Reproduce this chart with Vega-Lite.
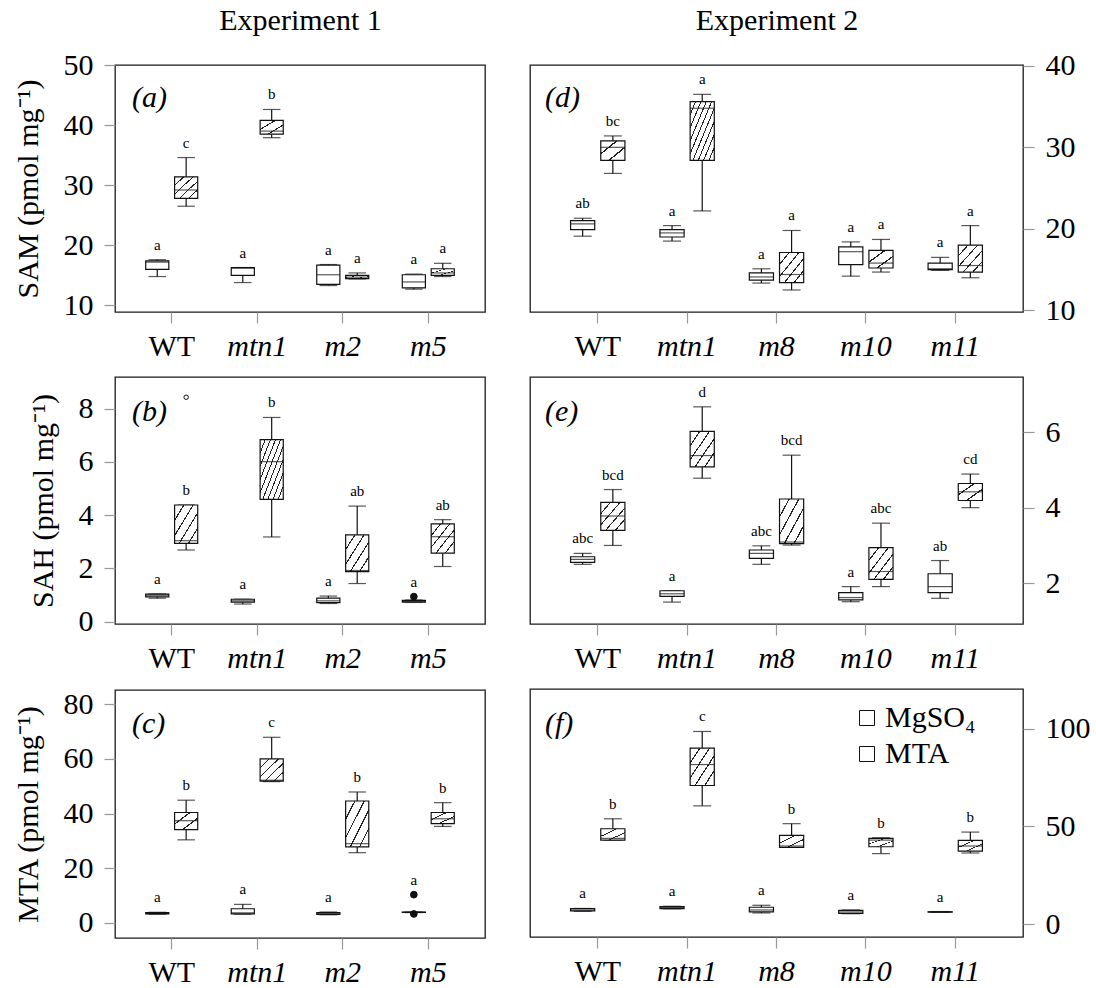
{
  "$schema": "https://vega.github.io/schema/vega-lite/v6.json",
  "background": "white",
  "padding": {"left": 12, "top": 4, "right": 0, "bottom": 0},
  "config": {
    "font": "Liberation Serif",
    "view": {"stroke": "#1a1a1a", "strokeWidth": 1.3},
    "axis": {"domain": false, "grid": false, "tickColor": "#999", "tickSize": 11, "tickWidth": 1.2, "labelFontSize": 30, "labelColor": "#000", "titleFontSize": 30, "titleFontWeight": "normal", "titleColor": "#000", "labelFont": "Liberation Serif", "titleFont": "Liberation Serif", "labelPadding": 11, "titlePadding": 20},
    "title": {"font": "Liberation Serif", "fontSize": 30, "fontWeight": "normal", "color": "#000"}
  },
  "datasets": {
    "boxes": [
      {"panel": "a", "geno": "WT", "trt": "MgSO₄", "min": 14.8, "q1": 16.0, "med": 17.2, "q3": 17.4, "max": 17.6, "top": 17.6, "lab": "a"},
      {"panel": "a", "geno": "WT", "trt": "MTA", "min": 26.5, "q1": 27.8, "med": 29.2, "q3": 31.4, "max": 34.6, "top": 34.6, "lab": "c"},
      {"panel": "a", "geno": "mtn1", "trt": "MgSO₄", "min": 13.8, "q1": 15.0, "med": 16.2, "q3": 16.3, "max": 16.3, "top": 16.3, "lab": "a"},
      {"panel": "a", "geno": "mtn1", "trt": "MTA", "min": 37.9, "q1": 38.5, "med": 39.0, "q3": 40.8, "max": 42.6, "top": 42.6, "lab": "b"},
      {"panel": "a", "geno": "m2", "trt": "MgSO₄", "min": 13.3, "q1": 13.5, "med": 15.1, "q3": 16.7, "max": 16.8, "top": 16.8, "lab": "a"},
      {"panel": "a", "geno": "m2", "trt": "MTA", "min": 14.4, "q1": 14.45, "med": 14.7, "q3": 15.0, "max": 15.4, "top": 15.4, "lab": "a"},
      {"panel": "a", "geno": "m5", "trt": "MgSO₄", "min": 12.7, "q1": 12.9, "med": 13.9, "q3": 15.1, "max": 15.2, "top": 15.2, "lab": "a"},
      {"panel": "a", "geno": "m5", "trt": "MTA", "min": 14.8, "q1": 15.0, "med": 15.4, "q3": 16.1, "max": 17.0, "top": 17.0, "lab": "a"},

      {"panel": "b", "geno": "WT", "trt": "MgSO₄", "min": 0.88, "q1": 0.93, "med": 0.99, "q3": 1.03, "max": 1.04, "top": 1.04, "lab": "a"},
      {"panel": "b", "geno": "WT", "trt": "MTA", "min": 2.69, "q1": 2.94, "med": 3.04, "q3": 4.38, "max": 4.38, "top": 4.38, "lab": "b"},
      {"panel": "b", "geno": "mtn1", "trt": "MgSO₄", "min": 0.66, "q1": 0.73, "med": 0.78, "q3": 0.84, "max": 0.84, "top": 0.84, "lab": "a"},
      {"panel": "b", "geno": "mtn1", "trt": "MTA", "min": 3.18, "q1": 4.59, "med": 6.01, "q3": 6.84, "max": 7.67, "top": 7.67, "lab": "b"},
      {"panel": "b", "geno": "m2", "trt": "MgSO₄", "min": 0.68, "q1": 0.71, "med": 0.78, "q3": 0.88, "max": 0.96, "top": 0.96, "lab": "a"},
      {"panel": "b", "geno": "m2", "trt": "MTA", "min": 1.43, "q1": 1.88, "med": 1.92, "q3": 3.26, "max": 4.34, "top": 4.34, "lab": "ab"},
      {"panel": "b", "geno": "m5", "trt": "MgSO₄", "min": 0.72, "q1": 0.73, "med": 0.76, "q3": 0.8, "max": 0.81, "top": 0.94, "lab": "a"},
      {"panel": "b", "geno": "m5", "trt": "MTA", "min": 2.07, "q1": 2.57, "med": 3.19, "q3": 3.67, "max": 3.83, "top": 3.83, "lab": "ab"},

      {"panel": "c", "geno": "WT", "trt": "MgSO₄", "min": 3.2, "q1": 3.3, "med": 3.5, "q3": 3.8, "max": 3.9, "top": 3.9, "lab": "a"},
      {"panel": "c", "geno": "WT", "trt": "MTA", "min": 30.4, "q1": 34.1, "med": 37.4, "q3": 40.4, "max": 44.9, "top": 44.9, "lab": "b"},
      {"panel": "c", "geno": "mtn1", "trt": "MgSO₄", "min": 3.2, "q1": 3.3, "med": 3.7, "q3": 5.2, "max": 6.8, "top": 6.8, "lab": "a"},
      {"panel": "c", "geno": "mtn1", "trt": "MTA", "min": 51.7, "q1": 51.9, "med": 52.2, "q3": 60.0, "max": 67.9, "top": 67.9, "lab": "c"},
      {"panel": "c", "geno": "m2", "trt": "MgSO₄", "min": 3.0, "q1": 3.1, "med": 3.5, "q3": 3.8, "max": 4.0, "top": 4.0, "lab": "a"},
      {"panel": "c", "geno": "m2", "trt": "MTA", "min": 25.7, "q1": 27.8, "med": 29.0, "q3": 44.6, "max": 47.9, "top": 47.9, "lab": "b"},
      {"panel": "c", "geno": "m5", "trt": "MgSO₄", "min": 3.8, "q1": 3.85, "med": 3.9, "q3": 3.95, "max": 4.0, "top": 10.35, "lab": "a"},
      {"panel": "c", "geno": "m5", "trt": "MTA", "min": 35.3, "q1": 36.3, "med": 38.1, "q3": 40.4, "max": 44.0, "top": 44.0, "lab": "b"},

      {"panel": "d", "geno": "WT", "trt": "MgSO₄", "min": 19.1, "q1": 19.9, "med": 20.6, "q3": 21.0, "max": 21.3, "top": 21.3, "lab": "ab"},
      {"panel": "d", "geno": "WT", "trt": "MTA", "min": 26.8, "q1": 28.4, "med": 30.0, "q3": 30.8, "max": 31.4, "top": 31.4, "lab": "bc"},
      {"panel": "d", "geno": "mtn1", "trt": "MgSO₄", "min": 18.5, "q1": 19.0, "med": 19.5, "q3": 19.9, "max": 20.4, "top": 20.4, "lab": "a"},
      {"panel": "d", "geno": "mtn1", "trt": "MTA", "min": 22.2, "q1": 28.4, "med": 34.8, "q3": 35.6, "max": 36.5, "top": 36.5, "lab": "a"},
      {"panel": "d", "geno": "m8", "trt": "MgSO₄", "min": 13.35, "q1": 13.7, "med": 14.1, "q3": 14.6, "max": 15.1, "top": 15.1, "lab": "a"},
      {"panel": "d", "geno": "m8", "trt": "MTA", "min": 12.5, "q1": 13.4, "med": 14.4, "q3": 17.1, "max": 19.8, "top": 19.8, "lab": "a"},
      {"panel": "d", "geno": "m10", "trt": "MgSO₄", "min": 14.2, "q1": 15.6, "med": 17.2, "q3": 17.8, "max": 18.4, "top": 18.4, "lab": "a"},
      {"panel": "d", "geno": "m10", "trt": "MTA", "min": 14.7, "q1": 15.2, "med": 15.8, "q3": 17.35, "max": 18.7, "top": 18.7, "lab": "a"},
      {"panel": "d", "geno": "m11", "trt": "MgSO₄", "min": 14.9, "q1": 15.0, "med": 15.1, "q3": 15.8, "max": 16.5, "top": 16.5, "lab": "a"},
      {"panel": "d", "geno": "m11", "trt": "MTA", "min": 14.0, "q1": 14.7, "med": 15.5, "q3": 18.0, "max": 20.4, "top": 20.4, "lab": "a"},

      {"panel": "e", "geno": "WT", "trt": "MgSO₄", "min": 2.5, "q1": 2.55, "med": 2.63, "q3": 2.7, "max": 2.79, "top": 2.79, "lab": "abc"},
      {"panel": "e", "geno": "WT", "trt": "MTA", "min": 3.0, "q1": 3.4, "med": 3.78, "q3": 4.14, "max": 4.48, "top": 4.48, "lab": "bcd"},
      {"panel": "e", "geno": "mtn1", "trt": "MgSO₄", "min": 1.5, "q1": 1.65, "med": 1.72, "q3": 1.8, "max": 1.8, "top": 1.8, "lab": "a"},
      {"panel": "e", "geno": "mtn1", "trt": "MTA", "min": 4.78, "q1": 5.08, "med": 5.38, "q3": 6.02, "max": 6.67, "top": 6.67, "lab": "d"},
      {"panel": "e", "geno": "m8", "trt": "MgSO₄", "min": 2.5, "q1": 2.66, "med": 2.79, "q3": 2.88, "max": 2.99, "top": 2.99, "lab": "abc"},
      {"panel": "e", "geno": "m8", "trt": "MTA", "min": 3.01, "q1": 3.05, "med": 3.09, "q3": 4.23, "max": 5.39, "top": 5.39, "lab": "bcd"},
      {"panel": "e", "geno": "m10", "trt": "MgSO₄", "min": 1.51, "q1": 1.56, "med": 1.62, "q3": 1.75, "max": 1.91, "top": 1.91, "lab": "a"},
      {"panel": "e", "geno": "m10", "trt": "MTA", "min": 1.91, "q1": 2.1, "med": 2.31, "q3": 2.94, "max": 3.59, "top": 3.59, "lab": "abc"},
      {"panel": "e", "geno": "m11", "trt": "MgSO₄", "min": 1.6, "q1": 1.75, "med": 1.91, "q3": 2.25, "max": 2.6, "top": 2.6, "lab": "ab"},
      {"panel": "e", "geno": "m11", "trt": "MTA", "min": 4.0, "q1": 4.19, "med": 4.42, "q3": 4.64, "max": 4.89, "top": 4.89, "lab": "cd"},

      {"panel": "f", "geno": "WT", "trt": "MgSO₄", "min": 6.6, "q1": 6.8, "med": 7.3, "q3": 8.0, "max": 8.1, "top": 8.1, "lab": "a"},
      {"panel": "f", "geno": "WT", "trt": "MTA", "min": 43.0, "q1": 43.0, "med": 43.9, "q3": 48.8, "max": 53.9, "top": 53.9, "lab": "b"},
      {"panel": "f", "geno": "mtn1", "trt": "MgSO₄", "min": 7.9, "q1": 8.0, "med": 8.5, "q3": 9.0, "max": 9.2, "top": 9.2, "lab": "a"},
      {"panel": "f", "geno": "mtn1", "trt": "MTA", "min": 60.5, "q1": 70.9, "med": 81.6, "q3": 90.0, "max": 98.5, "top": 98.5, "lab": "c"},
      {"panel": "f", "geno": "m8", "trt": "MgSO₄", "min": 5.8, "q1": 6.3, "med": 7.3, "q3": 8.7, "max": 9.7, "top": 9.7, "lab": "a"},
      {"panel": "f", "geno": "m8", "trt": "MTA", "min": 39.3, "q1": 39.3, "med": 40.0, "q3": 45.4, "max": 51.4, "top": 51.4, "lab": "b"},
      {"panel": "f", "geno": "m10", "trt": "MgSO₄", "min": 5.4, "q1": 5.6, "med": 6.3, "q3": 7.1, "max": 7.3, "top": 7.3, "lab": "a"},
      {"panel": "f", "geno": "m10", "trt": "MTA", "min": 36.1, "q1": 39.6, "med": 43.0, "q3": 43.9, "max": 44.2, "top": 44.2, "lab": "b"},
      {"panel": "f", "geno": "m11", "trt": "MgSO₄", "min": 6.1, "q1": 6.2, "med": 6.3, "q3": 6.4, "max": 6.5, "top": 6.5, "lab": "a"},
      {"panel": "f", "geno": "m11", "trt": "MTA", "min": 36.4, "q1": 37.4, "med": 40.0, "q3": 42.9, "max": 47.1, "top": 47.1, "lab": "b"}
    ],
    "outliers": [
      {"panel": "b", "geno": "WT", "trt": "MTA", "v": 8.43, "kind": "far"},
      {"panel": "b", "geno": "m5", "trt": "MgSO₄", "v": 0.94, "kind": "near"},
      {"panel": "c", "geno": "m5", "trt": "MgSO₄", "v": 10.35, "kind": "near"},
      {"panel": "c", "geno": "m5", "trt": "MgSO₄", "v": 3.3, "kind": "near"}
    ]
  },
  "resolve": {"scale": {"xOffset": "independent", "stroke": "independent"}, "legend": {"stroke": "independent"}},
  "spacing": 43,
  "hconcat": [
    {
      "spacing": 14,
      "resolve": {"scale": {"xOffset": "independent", "stroke": "independent"}, "legend": {"stroke": "independent"}},
      "vconcat": [
        {
          "width": 370, "height": 247,
          "title": {"text": "(a)", "anchor": "start", "frame": "group", "offset": -108, "dx": 17, "fontStyle": "italic", "baseline": "top"},
          "data": {"name": "boxes"},
          "transform": [{"filter": "datum.panel === 'a'"}],
          "resolve": {"axis": {"x": "independent", "y": "independent"}},
          "layer": [
            {"mark": {"type": "rule", "color": "#111", "strokeWidth": 1.2},
             "encoding": {
               "x": {"field": "geno", "type": "nominal", "scale": {"type": "band", "domain": ["WT", "mtn1", "m2", "m5"], "paddingInner": 0, "paddingOuter": 0.163}, "axis": {"orient": "top", "title": "Experiment 1", "labels": false, "ticks": false, "domain": false, "titlePadding": 30}},
               "xOffset": {"field": "trt", "type": "nominal", "scale": {"type": "band", "domain": ["MgSO₄", "MTA"], "paddingInner": 0.2, "paddingOuter": 0.58}},
               "y": {"field": "min", "type": "quantitative", "scale": {"domain": [8.9, 50], "nice": false, "zero": false}, "axis": null},
               "y2": {"field": "max"}}},
            {"mark": {"type": "tick", "size": 17.5, "thickness": 1.2, "color": "#111"},
             "encoding": {
               "x": {"field": "geno", "type": "nominal", "scale": {"type": "band", "domain": ["WT", "mtn1", "m2", "m5"], "paddingInner": 0, "paddingOuter": 0.163}, "axis": null},
               "xOffset": {"field": "trt", "type": "nominal", "scale": {"type": "band", "domain": ["MgSO₄", "MTA"], "paddingInner": 0.2, "paddingOuter": 0.58}},
               "y": {"field": "min", "type": "quantitative", "scale": {"domain": [8.9, 50], "nice": false, "zero": false}, "axis": null}}},
            {"mark": {"type": "tick", "size": 17.5, "thickness": 1.2, "color": "#111"},
             "encoding": {
               "x": {"field": "geno", "type": "nominal", "scale": {"type": "band", "domain": ["WT", "mtn1", "m2", "m5"], "paddingInner": 0, "paddingOuter": 0.163}, "axis": null},
               "xOffset": {"field": "trt", "type": "nominal", "scale": {"type": "band", "domain": ["MgSO₄", "MTA"], "paddingInner": 0.2, "paddingOuter": 0.58}},
               "y": {"field": "max", "type": "quantitative", "scale": {"domain": [8.9, 50], "nice": false, "zero": false}, "axis": null}}},
            {"mark": {"type": "bar", "stroke": "#111", "strokeWidth": 1.2},
             "encoding": {
               "x": {"field": "geno", "type": "nominal", "scale": {"type": "band", "domain": ["WT", "mtn1", "m2", "m5"], "paddingInner": 0, "paddingOuter": 0.163}, "axis": {"orient": "bottom", "title": null, "labelPadding": 8, "labelAngle": 0, "labelFontStyle": {"condition": {"test": "datum.value === 'WT'", "value": "normal"}, "value": "italic"}}},
               "xOffset": {"field": "trt", "type": "nominal", "scale": {"type": "band", "domain": ["MgSO₄", "MTA"], "paddingInner": 0.2, "paddingOuter": 0.58}},
               "y": {"field": "q1", "type": "quantitative", "scale": {"domain": [8.9, 50], "nice": false, "zero": false}, "axis": {"orient": "left", "values": [10, 20, 30, 40, 50], "title": "SAM (pmol mg⁻¹)"}},
               "y2": {"field": "q3"},
               "fill": {"condition": [
                 {"test": "datum.trt === 'MTA' && datum.q3 - datum.q1 > 8.3", "value": {"gradient": "linear", "x1": 0, "y1": 0, "x2": 1, "y2": 1, "stops": [{"offset": 0, "color": "#222"}, {"offset": 0.011, "color": "#222"}, {"offset": 0.011, "color": "white"}, {"offset": 0.1, "color": "white"}, {"offset": 0.1, "color": "#222"}, {"offset": 0.122, "color": "#222"}, {"offset": 0.122, "color": "white"}, {"offset": 0.211, "color": "white"}, {"offset": 0.211, "color": "#222"}, {"offset": 0.233, "color": "#222"}, {"offset": 0.233, "color": "white"}, {"offset": 0.322, "color": "white"}, {"offset": 0.322, "color": "#222"}, {"offset": 0.344, "color": "#222"}, {"offset": 0.344, "color": "white"}, {"offset": 0.433, "color": "white"}, {"offset": 0.433, "color": "#222"}, {"offset": 0.455, "color": "#222"}, {"offset": 0.455, "color": "white"}, {"offset": 0.545, "color": "white"}, {"offset": 0.545, "color": "#222"}, {"offset": 0.567, "color": "#222"}, {"offset": 0.567, "color": "white"}, {"offset": 0.656, "color": "white"}, {"offset": 0.656, "color": "#222"}, {"offset": 0.678, "color": "#222"}, {"offset": 0.678, "color": "white"}, {"offset": 0.767, "color": "white"}, {"offset": 0.767, "color": "#222"}, {"offset": 0.789, "color": "#222"}, {"offset": 0.789, "color": "white"}, {"offset": 0.878, "color": "white"}, {"offset": 0.878, "color": "#222"}, {"offset": 0.9, "color": "#222"}, {"offset": 0.9, "color": "white"}, {"offset": 0.989, "color": "white"}, {"offset": 0.989, "color": "#222"}, {"offset": 1, "color": "#222"}]}},
                 {"test": "datum.trt === 'MTA' && datum.q3 - datum.q1 > 3.3", "value": {"gradient": "linear", "x1": 0, "y1": 0, "x2": 1, "y2": 1, "stops": [{"offset": 0, "color": "#222"}, {"offset": 0.014, "color": "#222"}, {"offset": 0.014, "color": "white"}, {"offset": 0.186, "color": "white"}, {"offset": 0.186, "color": "#222"}, {"offset": 0.214, "color": "#222"}, {"offset": 0.214, "color": "white"}, {"offset": 0.386, "color": "white"}, {"offset": 0.386, "color": "#222"}, {"offset": 0.414, "color": "#222"}, {"offset": 0.414, "color": "white"}, {"offset": 0.586, "color": "white"}, {"offset": 0.586, "color": "#222"}, {"offset": 0.614, "color": "#222"}, {"offset": 0.614, "color": "white"}, {"offset": 0.786, "color": "white"}, {"offset": 0.786, "color": "#222"}, {"offset": 0.814, "color": "#222"}, {"offset": 0.814, "color": "white"}, {"offset": 0.986, "color": "white"}, {"offset": 0.986, "color": "#222"}, {"offset": 1, "color": "#222"}]}},
                 {"test": "datum.trt === 'MTA'", "value": {"gradient": "linear", "x1": 0, "y1": 0, "x2": 1, "y2": 1, "stops": [{"offset": 0, "color": "#222"}, {"offset": 0.022, "color": "#222"}, {"offset": 0.022, "color": "white"}, {"offset": 0.311, "color": "white"}, {"offset": 0.311, "color": "#222"}, {"offset": 0.355, "color": "#222"}, {"offset": 0.355, "color": "white"}, {"offset": 0.645, "color": "white"}, {"offset": 0.645, "color": "#222"}, {"offset": 0.689, "color": "#222"}, {"offset": 0.689, "color": "white"}, {"offset": 0.978, "color": "white"}, {"offset": 0.978, "color": "#222"}, {"offset": 1, "color": "#222"}]}}
               ], "value": "white"}}},
            {"mark": {"type": "tick", "size": 23, "thickness": 1.2, "color": "#111"},
             "encoding": {
               "x": {"field": "geno", "type": "nominal", "scale": {"type": "band", "domain": ["WT", "mtn1", "m2", "m5"], "paddingInner": 0, "paddingOuter": 0.163}, "axis": null},
               "xOffset": {"field": "trt", "type": "nominal", "scale": {"type": "band", "domain": ["MgSO₄", "MTA"], "paddingInner": 0.2, "paddingOuter": 0.58}},
               "y": {"field": "med", "type": "quantitative", "scale": {"domain": [8.9, 50], "nice": false, "zero": false}, "axis": null}}},
            {"mark": {"type": "text", "dy": -15, "fontSize": 15, "baseline": "middle", "color": "#000"},
             "encoding": {
               "x": {"field": "geno", "type": "nominal", "scale": {"type": "band", "domain": ["WT", "mtn1", "m2", "m5"], "paddingInner": 0, "paddingOuter": 0.163}, "axis": null},
               "xOffset": {"field": "trt", "type": "nominal", "scale": {"type": "band", "domain": ["MgSO₄", "MTA"], "paddingInner": 0.2, "paddingOuter": 0.58}},
               "y": {"field": "top", "type": "quantitative", "scale": {"domain": [8.9, 50], "nice": false, "zero": false}, "axis": null},
               "text": {"field": "lab"}}}
          ]
        },
        {
          "width": 370, "height": 247,
          "title": {"text": "(b)", "anchor": "start", "frame": "group", "offset": -50, "dx": 17, "fontStyle": "italic", "baseline": "top"},
          "data": {"name": "boxes"},
          "transform": [{"filter": "datum.panel === 'b'"}],
          "resolve": {"axis": {"x": "independent", "y": "independent"}},
          "layer": [
            {"mark": {"type": "rule", "color": "#111", "strokeWidth": 1.2},
             "encoding": {
               "x": {"field": "geno", "type": "nominal", "scale": {"type": "band", "domain": ["WT", "mtn1", "m2", "m5"], "paddingInner": 0, "paddingOuter": 0.163}, "axis": null},
               "xOffset": {"field": "trt", "type": "nominal", "scale": {"type": "band", "domain": ["MgSO₄", "MTA"], "paddingInner": 0.2, "paddingOuter": 0.58}},
               "y": {"field": "min", "type": "quantitative", "scale": {"domain": [-0.09, 9.19], "nice": false, "zero": false}, "axis": null},
               "y2": {"field": "max"}}},
            {"mark": {"type": "tick", "size": 17.5, "thickness": 1.2, "color": "#111"},
             "encoding": {
               "x": {"field": "geno", "type": "nominal", "scale": {"type": "band", "domain": ["WT", "mtn1", "m2", "m5"], "paddingInner": 0, "paddingOuter": 0.163}, "axis": null},
               "xOffset": {"field": "trt", "type": "nominal", "scale": {"type": "band", "domain": ["MgSO₄", "MTA"], "paddingInner": 0.2, "paddingOuter": 0.58}},
               "y": {"field": "min", "type": "quantitative", "scale": {"domain": [-0.09, 9.19], "nice": false, "zero": false}, "axis": null}}},
            {"mark": {"type": "tick", "size": 17.5, "thickness": 1.2, "color": "#111"},
             "encoding": {
               "x": {"field": "geno", "type": "nominal", "scale": {"type": "band", "domain": ["WT", "mtn1", "m2", "m5"], "paddingInner": 0, "paddingOuter": 0.163}, "axis": null},
               "xOffset": {"field": "trt", "type": "nominal", "scale": {"type": "band", "domain": ["MgSO₄", "MTA"], "paddingInner": 0.2, "paddingOuter": 0.58}},
               "y": {"field": "max", "type": "quantitative", "scale": {"domain": [-0.09, 9.19], "nice": false, "zero": false}, "axis": null}}},
            {"mark": {"type": "bar", "stroke": "#111", "strokeWidth": 1.2},
             "encoding": {
               "x": {"field": "geno", "type": "nominal", "scale": {"type": "band", "domain": ["WT", "mtn1", "m2", "m5"], "paddingInner": 0, "paddingOuter": 0.163}, "axis": {"orient": "bottom", "title": null, "labelPadding": 8, "labelAngle": 0, "labelFontStyle": {"condition": {"test": "datum.value === 'WT'", "value": "normal"}, "value": "italic"}}},
               "xOffset": {"field": "trt", "type": "nominal", "scale": {"type": "band", "domain": ["MgSO₄", "MTA"], "paddingInner": 0.2, "paddingOuter": 0.58}},
               "y": {"field": "q1", "type": "quantitative", "scale": {"domain": [-0.09, 9.19], "nice": false, "zero": false}, "axis": {"orient": "left", "values": [0, 2, 4, 6, 8], "title": "SAH (pmol mg⁻¹)"}},
               "y2": {"field": "q3"},
               "fill": {"condition": [
                 {"test": "datum.trt === 'MTA' && datum.q3 - datum.q1 > 1.88", "value": {"gradient": "linear", "x1": 0, "y1": 0, "x2": 1, "y2": 1, "stops": [{"offset": 0, "color": "#222"}, {"offset": 0.011, "color": "#222"}, {"offset": 0.011, "color": "white"}, {"offset": 0.1, "color": "white"}, {"offset": 0.1, "color": "#222"}, {"offset": 0.122, "color": "#222"}, {"offset": 0.122, "color": "white"}, {"offset": 0.211, "color": "white"}, {"offset": 0.211, "color": "#222"}, {"offset": 0.233, "color": "#222"}, {"offset": 0.233, "color": "white"}, {"offset": 0.322, "color": "white"}, {"offset": 0.322, "color": "#222"}, {"offset": 0.344, "color": "#222"}, {"offset": 0.344, "color": "white"}, {"offset": 0.433, "color": "white"}, {"offset": 0.433, "color": "#222"}, {"offset": 0.455, "color": "#222"}, {"offset": 0.455, "color": "white"}, {"offset": 0.545, "color": "white"}, {"offset": 0.545, "color": "#222"}, {"offset": 0.567, "color": "#222"}, {"offset": 0.567, "color": "white"}, {"offset": 0.656, "color": "white"}, {"offset": 0.656, "color": "#222"}, {"offset": 0.678, "color": "#222"}, {"offset": 0.678, "color": "white"}, {"offset": 0.767, "color": "white"}, {"offset": 0.767, "color": "#222"}, {"offset": 0.789, "color": "#222"}, {"offset": 0.789, "color": "white"}, {"offset": 0.878, "color": "white"}, {"offset": 0.878, "color": "#222"}, {"offset": 0.9, "color": "#222"}, {"offset": 0.9, "color": "white"}, {"offset": 0.989, "color": "white"}, {"offset": 0.989, "color": "#222"}, {"offset": 1, "color": "#222"}]}},
                 {"test": "datum.trt === 'MTA' && datum.q3 - datum.q1 > 0.75", "value": {"gradient": "linear", "x1": 0, "y1": 0, "x2": 1, "y2": 1, "stops": [{"offset": 0, "color": "#222"}, {"offset": 0.014, "color": "#222"}, {"offset": 0.014, "color": "white"}, {"offset": 0.186, "color": "white"}, {"offset": 0.186, "color": "#222"}, {"offset": 0.214, "color": "#222"}, {"offset": 0.214, "color": "white"}, {"offset": 0.386, "color": "white"}, {"offset": 0.386, "color": "#222"}, {"offset": 0.414, "color": "#222"}, {"offset": 0.414, "color": "white"}, {"offset": 0.586, "color": "white"}, {"offset": 0.586, "color": "#222"}, {"offset": 0.614, "color": "#222"}, {"offset": 0.614, "color": "white"}, {"offset": 0.786, "color": "white"}, {"offset": 0.786, "color": "#222"}, {"offset": 0.814, "color": "#222"}, {"offset": 0.814, "color": "white"}, {"offset": 0.986, "color": "white"}, {"offset": 0.986, "color": "#222"}, {"offset": 1, "color": "#222"}]}},
                 {"test": "datum.trt === 'MTA'", "value": {"gradient": "linear", "x1": 0, "y1": 0, "x2": 1, "y2": 1, "stops": [{"offset": 0, "color": "#222"}, {"offset": 0.022, "color": "#222"}, {"offset": 0.022, "color": "white"}, {"offset": 0.311, "color": "white"}, {"offset": 0.311, "color": "#222"}, {"offset": 0.355, "color": "#222"}, {"offset": 0.355, "color": "white"}, {"offset": 0.645, "color": "white"}, {"offset": 0.645, "color": "#222"}, {"offset": 0.689, "color": "#222"}, {"offset": 0.689, "color": "white"}, {"offset": 0.978, "color": "white"}, {"offset": 0.978, "color": "#222"}, {"offset": 1, "color": "#222"}]}}
               ], "value": "white"}}},
            {"mark": {"type": "tick", "size": 23, "thickness": 1.2, "color": "#111"},
             "encoding": {
               "x": {"field": "geno", "type": "nominal", "scale": {"type": "band", "domain": ["WT", "mtn1", "m2", "m5"], "paddingInner": 0, "paddingOuter": 0.163}, "axis": null},
               "xOffset": {"field": "trt", "type": "nominal", "scale": {"type": "band", "domain": ["MgSO₄", "MTA"], "paddingInner": 0.2, "paddingOuter": 0.58}},
               "y": {"field": "med", "type": "quantitative", "scale": {"domain": [-0.09, 9.19], "nice": false, "zero": false}, "axis": null}}},
            {"data": {"name": "outliers"},
             "transform": [{"filter": "datum.panel === 'b'"}],
             "mark": {"type": "point", "shape": "circle", "filled": true, "stroke": "#111", "strokeWidth": 1, "opacity": 1},
             "encoding": {
               "x": {"field": "geno", "type": "nominal", "scale": {"type": "band", "domain": ["WT", "mtn1", "m2", "m5"], "paddingInner": 0, "paddingOuter": 0.163}, "axis": null},
               "xOffset": {"field": "trt", "type": "nominal", "scale": {"type": "band", "domain": ["MgSO₄", "MTA"], "paddingInner": 0.2, "paddingOuter": 0.58}},
               "y": {"field": "v", "type": "quantitative", "scale": {"domain": [-0.09, 9.19], "nice": false, "zero": false}, "axis": null},
               "fill": {"condition": {"test": "datum.kind === 'far'", "value": "white"}, "value": "#111"},
               "size": {"condition": {"test": "datum.kind === 'far'", "value": 20}, "value": 45}}},
            {"mark": {"type": "text", "dy": -15, "fontSize": 15, "baseline": "middle", "color": "#000"},
             "encoding": {
               "x": {"field": "geno", "type": "nominal", "scale": {"type": "band", "domain": ["WT", "mtn1", "m2", "m5"], "paddingInner": 0, "paddingOuter": 0.163}, "axis": null},
               "xOffset": {"field": "trt", "type": "nominal", "scale": {"type": "band", "domain": ["MgSO₄", "MTA"], "paddingInner": 0.2, "paddingOuter": 0.58}},
               "y": {"field": "top", "type": "quantitative", "scale": {"domain": [-0.09, 9.19], "nice": false, "zero": false}, "axis": null},
               "text": {"field": "lab"}}}
          ]
        },
        {
          "width": 370, "height": 248,
          "title": {"text": "(c)", "anchor": "start", "frame": "group", "offset": -50, "dx": 17, "fontStyle": "italic", "baseline": "top"},
          "data": {"name": "boxes"},
          "transform": [{"filter": "datum.panel === 'c'"}],
          "resolve": {"axis": {"x": "independent", "y": "independent"}},
          "layer": [
            {"mark": {"type": "rule", "color": "#111", "strokeWidth": 1.2},
             "encoding": {
               "x": {"field": "geno", "type": "nominal", "scale": {"type": "band", "domain": ["WT", "mtn1", "m2", "m5"], "paddingInner": 0, "paddingOuter": 0.163}, "axis": null},
               "xOffset": {"field": "trt", "type": "nominal", "scale": {"type": "band", "domain": ["MgSO₄", "MTA"], "paddingInner": 0.2, "paddingOuter": 0.58}},
               "y": {"field": "min", "type": "quantitative", "scale": {"domain": [-5.5, 85.2], "nice": false, "zero": false}, "axis": null},
               "y2": {"field": "max"}}},
            {"mark": {"type": "tick", "size": 17.5, "thickness": 1.2, "color": "#111"},
             "encoding": {
               "x": {"field": "geno", "type": "nominal", "scale": {"type": "band", "domain": ["WT", "mtn1", "m2", "m5"], "paddingInner": 0, "paddingOuter": 0.163}, "axis": null},
               "xOffset": {"field": "trt", "type": "nominal", "scale": {"type": "band", "domain": ["MgSO₄", "MTA"], "paddingInner": 0.2, "paddingOuter": 0.58}},
               "y": {"field": "min", "type": "quantitative", "scale": {"domain": [-5.5, 85.2], "nice": false, "zero": false}, "axis": null}}},
            {"mark": {"type": "tick", "size": 17.5, "thickness": 1.2, "color": "#111"},
             "encoding": {
               "x": {"field": "geno", "type": "nominal", "scale": {"type": "band", "domain": ["WT", "mtn1", "m2", "m5"], "paddingInner": 0, "paddingOuter": 0.163}, "axis": null},
               "xOffset": {"field": "trt", "type": "nominal", "scale": {"type": "band", "domain": ["MgSO₄", "MTA"], "paddingInner": 0.2, "paddingOuter": 0.58}},
               "y": {"field": "max", "type": "quantitative", "scale": {"domain": [-5.5, 85.2], "nice": false, "zero": false}, "axis": null}}},
            {"mark": {"type": "bar", "stroke": "#111", "strokeWidth": 1.2},
             "encoding": {
               "x": {"field": "geno", "type": "nominal", "scale": {"type": "band", "domain": ["WT", "mtn1", "m2", "m5"], "paddingInner": 0, "paddingOuter": 0.163}, "axis": {"orient": "bottom", "title": null, "labelPadding": 8, "labelAngle": 0, "labelFontStyle": {"condition": {"test": "datum.value === 'WT'", "value": "normal"}, "value": "italic"}}},
               "xOffset": {"field": "trt", "type": "nominal", "scale": {"type": "band", "domain": ["MgSO₄", "MTA"], "paddingInner": 0.2, "paddingOuter": 0.58}},
               "y": {"field": "q1", "type": "quantitative", "scale": {"domain": [-5.5, 85.2], "nice": false, "zero": false}, "axis": {"orient": "left", "values": [0, 20, 40, 60, 80], "title": "MTA (pmol mg⁻¹)"}},
               "y2": {"field": "q3"},
               "fill": {"condition": [
                 {"test": "datum.trt === 'MTA' && datum.q3 - datum.q1 > 18.3", "value": {"gradient": "linear", "x1": 0, "y1": 0, "x2": 1, "y2": 1, "stops": [{"offset": 0, "color": "#222"}, {"offset": 0.011, "color": "#222"}, {"offset": 0.011, "color": "white"}, {"offset": 0.1, "color": "white"}, {"offset": 0.1, "color": "#222"}, {"offset": 0.122, "color": "#222"}, {"offset": 0.122, "color": "white"}, {"offset": 0.211, "color": "white"}, {"offset": 0.211, "color": "#222"}, {"offset": 0.233, "color": "#222"}, {"offset": 0.233, "color": "white"}, {"offset": 0.322, "color": "white"}, {"offset": 0.322, "color": "#222"}, {"offset": 0.344, "color": "#222"}, {"offset": 0.344, "color": "white"}, {"offset": 0.433, "color": "white"}, {"offset": 0.433, "color": "#222"}, {"offset": 0.455, "color": "#222"}, {"offset": 0.455, "color": "white"}, {"offset": 0.545, "color": "white"}, {"offset": 0.545, "color": "#222"}, {"offset": 0.567, "color": "#222"}, {"offset": 0.567, "color": "white"}, {"offset": 0.656, "color": "white"}, {"offset": 0.656, "color": "#222"}, {"offset": 0.678, "color": "#222"}, {"offset": 0.678, "color": "white"}, {"offset": 0.767, "color": "white"}, {"offset": 0.767, "color": "#222"}, {"offset": 0.789, "color": "#222"}, {"offset": 0.789, "color": "white"}, {"offset": 0.878, "color": "white"}, {"offset": 0.878, "color": "#222"}, {"offset": 0.9, "color": "#222"}, {"offset": 0.9, "color": "white"}, {"offset": 0.989, "color": "white"}, {"offset": 0.989, "color": "#222"}, {"offset": 1, "color": "#222"}]}},
                 {"test": "datum.trt === 'MTA' && datum.q3 - datum.q1 > 7.3", "value": {"gradient": "linear", "x1": 0, "y1": 0, "x2": 1, "y2": 1, "stops": [{"offset": 0, "color": "#222"}, {"offset": 0.014, "color": "#222"}, {"offset": 0.014, "color": "white"}, {"offset": 0.186, "color": "white"}, {"offset": 0.186, "color": "#222"}, {"offset": 0.214, "color": "#222"}, {"offset": 0.214, "color": "white"}, {"offset": 0.386, "color": "white"}, {"offset": 0.386, "color": "#222"}, {"offset": 0.414, "color": "#222"}, {"offset": 0.414, "color": "white"}, {"offset": 0.586, "color": "white"}, {"offset": 0.586, "color": "#222"}, {"offset": 0.614, "color": "#222"}, {"offset": 0.614, "color": "white"}, {"offset": 0.786, "color": "white"}, {"offset": 0.786, "color": "#222"}, {"offset": 0.814, "color": "#222"}, {"offset": 0.814, "color": "white"}, {"offset": 0.986, "color": "white"}, {"offset": 0.986, "color": "#222"}, {"offset": 1, "color": "#222"}]}},
                 {"test": "datum.trt === 'MTA'", "value": {"gradient": "linear", "x1": 0, "y1": 0, "x2": 1, "y2": 1, "stops": [{"offset": 0, "color": "#222"}, {"offset": 0.022, "color": "#222"}, {"offset": 0.022, "color": "white"}, {"offset": 0.311, "color": "white"}, {"offset": 0.311, "color": "#222"}, {"offset": 0.355, "color": "#222"}, {"offset": 0.355, "color": "white"}, {"offset": 0.645, "color": "white"}, {"offset": 0.645, "color": "#222"}, {"offset": 0.689, "color": "#222"}, {"offset": 0.689, "color": "white"}, {"offset": 0.978, "color": "white"}, {"offset": 0.978, "color": "#222"}, {"offset": 1, "color": "#222"}]}}
               ], "value": "white"}}},
            {"mark": {"type": "tick", "size": 23, "thickness": 1.2, "color": "#111"},
             "encoding": {
               "x": {"field": "geno", "type": "nominal", "scale": {"type": "band", "domain": ["WT", "mtn1", "m2", "m5"], "paddingInner": 0, "paddingOuter": 0.163}, "axis": null},
               "xOffset": {"field": "trt", "type": "nominal", "scale": {"type": "band", "domain": ["MgSO₄", "MTA"], "paddingInner": 0.2, "paddingOuter": 0.58}},
               "y": {"field": "med", "type": "quantitative", "scale": {"domain": [-5.5, 85.2], "nice": false, "zero": false}, "axis": null}}},
            {"data": {"name": "outliers"},
             "transform": [{"filter": "datum.panel === 'c'"}],
             "mark": {"type": "point", "shape": "circle", "filled": true, "stroke": "#111", "strokeWidth": 1, "fill": "#111", "size": 45, "opacity": 1},
             "encoding": {
               "x": {"field": "geno", "type": "nominal", "scale": {"type": "band", "domain": ["WT", "mtn1", "m2", "m5"], "paddingInner": 0, "paddingOuter": 0.163}, "axis": null},
               "xOffset": {"field": "trt", "type": "nominal", "scale": {"type": "band", "domain": ["MgSO₄", "MTA"], "paddingInner": 0.2, "paddingOuter": 0.58}},
               "y": {"field": "v", "type": "quantitative", "scale": {"domain": [-5.5, 85.2], "nice": false, "zero": false}, "axis": null}}},
            {"mark": {"type": "text", "dy": -15, "fontSize": 15, "baseline": "middle", "color": "#000"},
             "encoding": {
               "x": {"field": "geno", "type": "nominal", "scale": {"type": "band", "domain": ["WT", "mtn1", "m2", "m5"], "paddingInner": 0, "paddingOuter": 0.163}, "axis": null},
               "xOffset": {"field": "trt", "type": "nominal", "scale": {"type": "band", "domain": ["MgSO₄", "MTA"], "paddingInner": 0.2, "paddingOuter": 0.58}},
               "y": {"field": "top", "type": "quantitative", "scale": {"domain": [-5.5, 85.2], "nice": false, "zero": false}, "axis": null},
               "text": {"field": "lab"}}}
          ]
        }
      ]
    },
    {
      "spacing": 14,
      "resolve": {"scale": {"xOffset": "independent", "stroke": "independent"}, "legend": {"stroke": "independent"}},
      "vconcat": [
        {
          "width": 493, "height": 247,
          "title": {"text": "(d)", "anchor": "start", "frame": "group", "offset": -108, "dx": 15, "fontStyle": "italic", "baseline": "top"},
          "data": {"name": "boxes"},
          "transform": [{"filter": "datum.panel === 'd'"}],
          "resolve": {"axis": {"x": "independent", "y": "independent"}},
          "layer": [
            {"mark": {"type": "rule", "color": "#111", "strokeWidth": 1.2},
             "encoding": {
               "x": {"field": "geno", "type": "nominal", "scale": {"type": "band", "domain": ["WT", "mtn1", "m8", "m10", "m11"], "paddingInner": 0, "paddingOuter": 0.258}, "axis": {"orient": "top", "title": "Experiment 2", "labels": false, "ticks": false, "domain": false, "titlePadding": 30}},
               "xOffset": {"field": "trt", "type": "nominal", "scale": {"type": "band", "domain": ["MgSO₄", "MTA"], "paddingInner": 0.2, "paddingOuter": 0.58}},
               "y": {"field": "min", "type": "quantitative", "scale": {"domain": [9.8, 40.1], "nice": false, "zero": false}, "axis": null},
               "y2": {"field": "max"}}},
            {"mark": {"type": "tick", "size": 18, "thickness": 1.2, "color": "#111"},
             "encoding": {
               "x": {"field": "geno", "type": "nominal", "scale": {"type": "band", "domain": ["WT", "mtn1", "m8", "m10", "m11"], "paddingInner": 0, "paddingOuter": 0.258}, "axis": null},
               "xOffset": {"field": "trt", "type": "nominal", "scale": {"type": "band", "domain": ["MgSO₄", "MTA"], "paddingInner": 0.2, "paddingOuter": 0.58}},
               "y": {"field": "min", "type": "quantitative", "scale": {"domain": [9.8, 40.1], "nice": false, "zero": false}, "axis": null}}},
            {"mark": {"type": "tick", "size": 18, "thickness": 1.2, "color": "#111"},
             "encoding": {
               "x": {"field": "geno", "type": "nominal", "scale": {"type": "band", "domain": ["WT", "mtn1", "m8", "m10", "m11"], "paddingInner": 0, "paddingOuter": 0.258}, "axis": null},
               "xOffset": {"field": "trt", "type": "nominal", "scale": {"type": "band", "domain": ["MgSO₄", "MTA"], "paddingInner": 0.2, "paddingOuter": 0.58}},
               "y": {"field": "max", "type": "quantitative", "scale": {"domain": [9.8, 40.1], "nice": false, "zero": false}, "axis": null}}},
            {"mark": {"type": "bar", "stroke": "#111", "strokeWidth": 1.2},
             "encoding": {
               "x": {"field": "geno", "type": "nominal", "scale": {"type": "band", "domain": ["WT", "mtn1", "m8", "m10", "m11"], "paddingInner": 0, "paddingOuter": 0.258}, "axis": {"orient": "bottom", "title": null, "labelPadding": 8, "labelAngle": 0, "labelFontStyle": {"condition": {"test": "datum.value === 'WT'", "value": "normal"}, "value": "italic"}}},
               "xOffset": {"field": "trt", "type": "nominal", "scale": {"type": "band", "domain": ["MgSO₄", "MTA"], "paddingInner": 0.2, "paddingOuter": 0.58}},
               "y": {"field": "q1", "type": "quantitative", "scale": {"domain": [9.8, 40.1], "nice": false, "zero": false}, "axis": {"orient": "right", "values": [10, 20, 30, 40], "title": null}},
               "y2": {"field": "q3"},
               "fill": {"condition": [
                 {"test": "datum.trt === 'MTA' && datum.q3 - datum.q1 > 6.1", "value": {"gradient": "linear", "x1": 0, "y1": 0, "x2": 1, "y2": 1, "stops": [{"offset": 0, "color": "#222"}, {"offset": 0.011, "color": "#222"}, {"offset": 0.011, "color": "white"}, {"offset": 0.1, "color": "white"}, {"offset": 0.1, "color": "#222"}, {"offset": 0.122, "color": "#222"}, {"offset": 0.122, "color": "white"}, {"offset": 0.211, "color": "white"}, {"offset": 0.211, "color": "#222"}, {"offset": 0.233, "color": "#222"}, {"offset": 0.233, "color": "white"}, {"offset": 0.322, "color": "white"}, {"offset": 0.322, "color": "#222"}, {"offset": 0.344, "color": "#222"}, {"offset": 0.344, "color": "white"}, {"offset": 0.433, "color": "white"}, {"offset": 0.433, "color": "#222"}, {"offset": 0.455, "color": "#222"}, {"offset": 0.455, "color": "white"}, {"offset": 0.545, "color": "white"}, {"offset": 0.545, "color": "#222"}, {"offset": 0.567, "color": "#222"}, {"offset": 0.567, "color": "white"}, {"offset": 0.656, "color": "white"}, {"offset": 0.656, "color": "#222"}, {"offset": 0.678, "color": "#222"}, {"offset": 0.678, "color": "white"}, {"offset": 0.767, "color": "white"}, {"offset": 0.767, "color": "#222"}, {"offset": 0.789, "color": "#222"}, {"offset": 0.789, "color": "white"}, {"offset": 0.878, "color": "white"}, {"offset": 0.878, "color": "#222"}, {"offset": 0.9, "color": "#222"}, {"offset": 0.9, "color": "white"}, {"offset": 0.989, "color": "white"}, {"offset": 0.989, "color": "#222"}, {"offset": 1, "color": "#222"}]}},
                 {"test": "datum.trt === 'MTA' && datum.q3 - datum.q1 > 2.45", "value": {"gradient": "linear", "x1": 0, "y1": 0, "x2": 1, "y2": 1, "stops": [{"offset": 0, "color": "#222"}, {"offset": 0.014, "color": "#222"}, {"offset": 0.014, "color": "white"}, {"offset": 0.186, "color": "white"}, {"offset": 0.186, "color": "#222"}, {"offset": 0.214, "color": "#222"}, {"offset": 0.214, "color": "white"}, {"offset": 0.386, "color": "white"}, {"offset": 0.386, "color": "#222"}, {"offset": 0.414, "color": "#222"}, {"offset": 0.414, "color": "white"}, {"offset": 0.586, "color": "white"}, {"offset": 0.586, "color": "#222"}, {"offset": 0.614, "color": "#222"}, {"offset": 0.614, "color": "white"}, {"offset": 0.786, "color": "white"}, {"offset": 0.786, "color": "#222"}, {"offset": 0.814, "color": "#222"}, {"offset": 0.814, "color": "white"}, {"offset": 0.986, "color": "white"}, {"offset": 0.986, "color": "#222"}, {"offset": 1, "color": "#222"}]}},
                 {"test": "datum.trt === 'MTA'", "value": {"gradient": "linear", "x1": 0, "y1": 0, "x2": 1, "y2": 1, "stops": [{"offset": 0, "color": "#222"}, {"offset": 0.022, "color": "#222"}, {"offset": 0.022, "color": "white"}, {"offset": 0.311, "color": "white"}, {"offset": 0.311, "color": "#222"}, {"offset": 0.355, "color": "#222"}, {"offset": 0.355, "color": "white"}, {"offset": 0.645, "color": "white"}, {"offset": 0.645, "color": "#222"}, {"offset": 0.689, "color": "#222"}, {"offset": 0.689, "color": "white"}, {"offset": 0.978, "color": "white"}, {"offset": 0.978, "color": "#222"}, {"offset": 1, "color": "#222"}]}}
               ], "value": "white"}}},
            {"mark": {"type": "tick", "size": 24, "thickness": 1.2, "color": "#111"},
             "encoding": {
               "x": {"field": "geno", "type": "nominal", "scale": {"type": "band", "domain": ["WT", "mtn1", "m8", "m10", "m11"], "paddingInner": 0, "paddingOuter": 0.258}, "axis": null},
               "xOffset": {"field": "trt", "type": "nominal", "scale": {"type": "band", "domain": ["MgSO₄", "MTA"], "paddingInner": 0.2, "paddingOuter": 0.58}},
               "y": {"field": "med", "type": "quantitative", "scale": {"domain": [9.8, 40.1], "nice": false, "zero": false}, "axis": null}}},
            {"mark": {"type": "text", "dy": -15, "fontSize": 15, "baseline": "middle", "color": "#000"},
             "encoding": {
               "x": {"field": "geno", "type": "nominal", "scale": {"type": "band", "domain": ["WT", "mtn1", "m8", "m10", "m11"], "paddingInner": 0, "paddingOuter": 0.258}, "axis": null},
               "xOffset": {"field": "trt", "type": "nominal", "scale": {"type": "band", "domain": ["MgSO₄", "MTA"], "paddingInner": 0.2, "paddingOuter": 0.58}},
               "y": {"field": "top", "type": "quantitative", "scale": {"domain": [9.8, 40.1], "nice": false, "zero": false}, "axis": null},
               "text": {"field": "lab"}}}
          ]
        },
        {
          "width": 493, "height": 247,
          "title": {"text": "(e)", "anchor": "start", "frame": "group", "offset": -50, "dx": 15, "fontStyle": "italic", "baseline": "top"},
          "data": {"name": "boxes"},
          "transform": [{"filter": "datum.panel === 'e'"}],
          "resolve": {"axis": {"x": "independent", "y": "independent"}},
          "layer": [
            {"mark": {"type": "rule", "color": "#111", "strokeWidth": 1.2},
             "encoding": {
               "x": {"field": "geno", "type": "nominal", "scale": {"type": "band", "domain": ["WT", "mtn1", "m8", "m10", "m11"], "paddingInner": 0, "paddingOuter": 0.258}, "axis": null},
               "xOffset": {"field": "trt", "type": "nominal", "scale": {"type": "band", "domain": ["MgSO₄", "MTA"], "paddingInner": 0.2, "paddingOuter": 0.58}},
               "y": {"field": "min", "type": "quantitative", "scale": {"domain": [0.92, 7.46], "nice": false, "zero": false}, "axis": null},
               "y2": {"field": "max"}}},
            {"mark": {"type": "tick", "size": 18, "thickness": 1.2, "color": "#111"},
             "encoding": {
               "x": {"field": "geno", "type": "nominal", "scale": {"type": "band", "domain": ["WT", "mtn1", "m8", "m10", "m11"], "paddingInner": 0, "paddingOuter": 0.258}, "axis": null},
               "xOffset": {"field": "trt", "type": "nominal", "scale": {"type": "band", "domain": ["MgSO₄", "MTA"], "paddingInner": 0.2, "paddingOuter": 0.58}},
               "y": {"field": "min", "type": "quantitative", "scale": {"domain": [0.92, 7.46], "nice": false, "zero": false}, "axis": null}}},
            {"mark": {"type": "tick", "size": 18, "thickness": 1.2, "color": "#111"},
             "encoding": {
               "x": {"field": "geno", "type": "nominal", "scale": {"type": "band", "domain": ["WT", "mtn1", "m8", "m10", "m11"], "paddingInner": 0, "paddingOuter": 0.258}, "axis": null},
               "xOffset": {"field": "trt", "type": "nominal", "scale": {"type": "band", "domain": ["MgSO₄", "MTA"], "paddingInner": 0.2, "paddingOuter": 0.58}},
               "y": {"field": "max", "type": "quantitative", "scale": {"domain": [0.92, 7.46], "nice": false, "zero": false}, "axis": null}}},
            {"mark": {"type": "bar", "stroke": "#111", "strokeWidth": 1.2},
             "encoding": {
               "x": {"field": "geno", "type": "nominal", "scale": {"type": "band", "domain": ["WT", "mtn1", "m8", "m10", "m11"], "paddingInner": 0, "paddingOuter": 0.258}, "axis": {"orient": "bottom", "title": null, "labelPadding": 8, "labelAngle": 0, "labelFontStyle": {"condition": {"test": "datum.value === 'WT'", "value": "normal"}, "value": "italic"}}},
               "xOffset": {"field": "trt", "type": "nominal", "scale": {"type": "band", "domain": ["MgSO₄", "MTA"], "paddingInner": 0.2, "paddingOuter": 0.58}},
               "y": {"field": "q1", "type": "quantitative", "scale": {"domain": [0.92, 7.46], "nice": false, "zero": false}, "axis": {"orient": "right", "values": [2, 4, 6], "title": null}},
               "y2": {"field": "q3"},
               "fill": {"condition": [
                 {"test": "datum.trt === 'MTA' && datum.q3 - datum.q1 > 1.32", "value": {"gradient": "linear", "x1": 0, "y1": 0, "x2": 1, "y2": 1, "stops": [{"offset": 0, "color": "#222"}, {"offset": 0.011, "color": "#222"}, {"offset": 0.011, "color": "white"}, {"offset": 0.1, "color": "white"}, {"offset": 0.1, "color": "#222"}, {"offset": 0.122, "color": "#222"}, {"offset": 0.122, "color": "white"}, {"offset": 0.211, "color": "white"}, {"offset": 0.211, "color": "#222"}, {"offset": 0.233, "color": "#222"}, {"offset": 0.233, "color": "white"}, {"offset": 0.322, "color": "white"}, {"offset": 0.322, "color": "#222"}, {"offset": 0.344, "color": "#222"}, {"offset": 0.344, "color": "white"}, {"offset": 0.433, "color": "white"}, {"offset": 0.433, "color": "#222"}, {"offset": 0.455, "color": "#222"}, {"offset": 0.455, "color": "white"}, {"offset": 0.545, "color": "white"}, {"offset": 0.545, "color": "#222"}, {"offset": 0.567, "color": "#222"}, {"offset": 0.567, "color": "white"}, {"offset": 0.656, "color": "white"}, {"offset": 0.656, "color": "#222"}, {"offset": 0.678, "color": "#222"}, {"offset": 0.678, "color": "white"}, {"offset": 0.767, "color": "white"}, {"offset": 0.767, "color": "#222"}, {"offset": 0.789, "color": "#222"}, {"offset": 0.789, "color": "white"}, {"offset": 0.878, "color": "white"}, {"offset": 0.878, "color": "#222"}, {"offset": 0.9, "color": "#222"}, {"offset": 0.9, "color": "white"}, {"offset": 0.989, "color": "white"}, {"offset": 0.989, "color": "#222"}, {"offset": 1, "color": "#222"}]}},
                 {"test": "datum.trt === 'MTA' && datum.q3 - datum.q1 > 0.53", "value": {"gradient": "linear", "x1": 0, "y1": 0, "x2": 1, "y2": 1, "stops": [{"offset": 0, "color": "#222"}, {"offset": 0.014, "color": "#222"}, {"offset": 0.014, "color": "white"}, {"offset": 0.186, "color": "white"}, {"offset": 0.186, "color": "#222"}, {"offset": 0.214, "color": "#222"}, {"offset": 0.214, "color": "white"}, {"offset": 0.386, "color": "white"}, {"offset": 0.386, "color": "#222"}, {"offset": 0.414, "color": "#222"}, {"offset": 0.414, "color": "white"}, {"offset": 0.586, "color": "white"}, {"offset": 0.586, "color": "#222"}, {"offset": 0.614, "color": "#222"}, {"offset": 0.614, "color": "white"}, {"offset": 0.786, "color": "white"}, {"offset": 0.786, "color": "#222"}, {"offset": 0.814, "color": "#222"}, {"offset": 0.814, "color": "white"}, {"offset": 0.986, "color": "white"}, {"offset": 0.986, "color": "#222"}, {"offset": 1, "color": "#222"}]}},
                 {"test": "datum.trt === 'MTA'", "value": {"gradient": "linear", "x1": 0, "y1": 0, "x2": 1, "y2": 1, "stops": [{"offset": 0, "color": "#222"}, {"offset": 0.022, "color": "#222"}, {"offset": 0.022, "color": "white"}, {"offset": 0.311, "color": "white"}, {"offset": 0.311, "color": "#222"}, {"offset": 0.355, "color": "#222"}, {"offset": 0.355, "color": "white"}, {"offset": 0.645, "color": "white"}, {"offset": 0.645, "color": "#222"}, {"offset": 0.689, "color": "#222"}, {"offset": 0.689, "color": "white"}, {"offset": 0.978, "color": "white"}, {"offset": 0.978, "color": "#222"}, {"offset": 1, "color": "#222"}]}}
               ], "value": "white"}}},
            {"mark": {"type": "tick", "size": 24, "thickness": 1.2, "color": "#111"},
             "encoding": {
               "x": {"field": "geno", "type": "nominal", "scale": {"type": "band", "domain": ["WT", "mtn1", "m8", "m10", "m11"], "paddingInner": 0, "paddingOuter": 0.258}, "axis": null},
               "xOffset": {"field": "trt", "type": "nominal", "scale": {"type": "band", "domain": ["MgSO₄", "MTA"], "paddingInner": 0.2, "paddingOuter": 0.58}},
               "y": {"field": "med", "type": "quantitative", "scale": {"domain": [0.92, 7.46], "nice": false, "zero": false}, "axis": null}}},
            {"mark": {"type": "text", "dy": -15, "fontSize": 15, "baseline": "middle", "color": "#000"},
             "encoding": {
               "x": {"field": "geno", "type": "nominal", "scale": {"type": "band", "domain": ["WT", "mtn1", "m8", "m10", "m11"], "paddingInner": 0, "paddingOuter": 0.258}, "axis": null},
               "xOffset": {"field": "trt", "type": "nominal", "scale": {"type": "band", "domain": ["MgSO₄", "MTA"], "paddingInner": 0.2, "paddingOuter": 0.58}},
               "y": {"field": "top", "type": "quantitative", "scale": {"domain": [0.92, 7.46], "nice": false, "zero": false}, "axis": null},
               "text": {"field": "lab"}}}
          ]
        },
        {
          "width": 493, "height": 248,
          "title": {"text": "(f)", "anchor": "start", "frame": "group", "offset": -50, "dx": 15, "fontStyle": "italic", "baseline": "top"},
          "data": {"name": "boxes"},
          "transform": [{"filter": "datum.panel === 'f'"}],
          "resolve": {"axis": {"x": "independent", "y": "independent"}},
          "layer": [
            {"mark": {"type": "rule", "color": "#111", "strokeWidth": 1.2},
             "encoding": {
               "x": {"field": "geno", "type": "nominal", "scale": {"type": "band", "domain": ["WT", "mtn1", "m8", "m10", "m11"], "paddingInner": 0, "paddingOuter": 0.258}, "axis": null},
               "xOffset": {"field": "trt", "type": "nominal", "scale": {"type": "band", "domain": ["MgSO₄", "MTA"], "paddingInner": 0.2, "paddingOuter": 0.58}},
               "y": {"field": "min", "type": "quantitative", "scale": {"domain": [-6.5, 120.2], "nice": false, "zero": false}, "axis": null},
               "y2": {"field": "max"}}},
            {"mark": {"type": "tick", "size": 18, "thickness": 1.2, "color": "#111"},
             "encoding": {
               "x": {"field": "geno", "type": "nominal", "scale": {"type": "band", "domain": ["WT", "mtn1", "m8", "m10", "m11"], "paddingInner": 0, "paddingOuter": 0.258}, "axis": null},
               "xOffset": {"field": "trt", "type": "nominal", "scale": {"type": "band", "domain": ["MgSO₄", "MTA"], "paddingInner": 0.2, "paddingOuter": 0.58}},
               "y": {"field": "min", "type": "quantitative", "scale": {"domain": [-6.5, 120.2], "nice": false, "zero": false}, "axis": null}}},
            {"mark": {"type": "tick", "size": 18, "thickness": 1.2, "color": "#111"},
             "encoding": {
               "x": {"field": "geno", "type": "nominal", "scale": {"type": "band", "domain": ["WT", "mtn1", "m8", "m10", "m11"], "paddingInner": 0, "paddingOuter": 0.258}, "axis": null},
               "xOffset": {"field": "trt", "type": "nominal", "scale": {"type": "band", "domain": ["MgSO₄", "MTA"], "paddingInner": 0.2, "paddingOuter": 0.58}},
               "y": {"field": "max", "type": "quantitative", "scale": {"domain": [-6.5, 120.2], "nice": false, "zero": false}, "axis": null}}},
            {"mark": {"type": "bar", "strokeWidth": 1.2},
             "encoding": {
               "x": {"field": "geno", "type": "nominal", "scale": {"type": "band", "domain": ["WT", "mtn1", "m8", "m10", "m11"], "paddingInner": 0, "paddingOuter": 0.258}, "axis": {"orient": "bottom", "title": null, "labelPadding": 8, "labelAngle": 0, "labelFontStyle": {"condition": {"test": "datum.value === 'WT'", "value": "normal"}, "value": "italic"}}},
               "xOffset": {"field": "trt", "type": "nominal", "scale": {"type": "band", "domain": ["MgSO₄", "MTA"], "paddingInner": 0.2, "paddingOuter": 0.58}},
               "y": {"field": "q1", "type": "quantitative", "scale": {"domain": [-6.5, 120.2], "nice": false, "zero": false}, "axis": {"orient": "right", "values": [0, 50, 100], "title": null}},
               "y2": {"field": "q3"},
               "stroke": {"field": "trt", "type": "nominal",
                          "scale": {"domain": ["MgSO₄", "MTA"], "range": ["#111", "#111"]},
                          "legend": {"title": null, "orient": "none", "legendX": 322, "legendY": 14, "padding": 0, "symbolType": "square", "symbolSize": 225, "symbolStrokeWidth": 1, "labelFontSize": 30, "labelFont": "Liberation Serif", "labelColor": "#000", "labelOffset": 3, "rowPadding": 6,
                                     "encode": {"symbols": {"update": {"fill": [{"test": "datum.value === 'MTA'", "value": {"gradient": "linear", "x1": 0, "y1": 0, "x2": 1, "y2": 1, "stops": [{"offset": 0, "color": "#222"}, {"offset": 0.03, "color": "#222"}, {"offset": 0.03, "color": "white"}, {"offset": 0.22, "color": "white"}, {"offset": 0.22, "color": "#222"}, {"offset": 0.28, "color": "#222"}, {"offset": 0.28, "color": "white"}, {"offset": 0.47, "color": "white"}, {"offset": 0.47, "color": "#222"}, {"offset": 0.53, "color": "#222"}, {"offset": 0.53, "color": "white"}, {"offset": 0.72, "color": "white"}, {"offset": 0.72, "color": "#222"}, {"offset": 0.78, "color": "#222"}, {"offset": 0.78, "color": "white"}, {"offset": 0.97, "color": "white"}, {"offset": 0.97, "color": "#222"}, {"offset": 1, "color": "#222"}]}}, {"value": "white"}], "opacity": {"value": 1}}}}}},
               "fill": {"condition": [
                 {"test": "datum.trt === 'MTA' && datum.q3 - datum.q1 > 25.5", "value": {"gradient": "linear", "x1": 0, "y1": 0, "x2": 1, "y2": 1, "stops": [{"offset": 0, "color": "#222"}, {"offset": 0.011, "color": "#222"}, {"offset": 0.011, "color": "white"}, {"offset": 0.1, "color": "white"}, {"offset": 0.1, "color": "#222"}, {"offset": 0.122, "color": "#222"}, {"offset": 0.122, "color": "white"}, {"offset": 0.211, "color": "white"}, {"offset": 0.211, "color": "#222"}, {"offset": 0.233, "color": "#222"}, {"offset": 0.233, "color": "white"}, {"offset": 0.322, "color": "white"}, {"offset": 0.322, "color": "#222"}, {"offset": 0.344, "color": "#222"}, {"offset": 0.344, "color": "white"}, {"offset": 0.433, "color": "white"}, {"offset": 0.433, "color": "#222"}, {"offset": 0.455, "color": "#222"}, {"offset": 0.455, "color": "white"}, {"offset": 0.545, "color": "white"}, {"offset": 0.545, "color": "#222"}, {"offset": 0.567, "color": "#222"}, {"offset": 0.567, "color": "white"}, {"offset": 0.656, "color": "white"}, {"offset": 0.656, "color": "#222"}, {"offset": 0.678, "color": "#222"}, {"offset": 0.678, "color": "white"}, {"offset": 0.767, "color": "white"}, {"offset": 0.767, "color": "#222"}, {"offset": 0.789, "color": "#222"}, {"offset": 0.789, "color": "white"}, {"offset": 0.878, "color": "white"}, {"offset": 0.878, "color": "#222"}, {"offset": 0.9, "color": "#222"}, {"offset": 0.9, "color": "white"}, {"offset": 0.989, "color": "white"}, {"offset": 0.989, "color": "#222"}, {"offset": 1, "color": "#222"}]}},
                 {"test": "datum.trt === 'MTA' && datum.q3 - datum.q1 > 10.2", "value": {"gradient": "linear", "x1": 0, "y1": 0, "x2": 1, "y2": 1, "stops": [{"offset": 0, "color": "#222"}, {"offset": 0.014, "color": "#222"}, {"offset": 0.014, "color": "white"}, {"offset": 0.186, "color": "white"}, {"offset": 0.186, "color": "#222"}, {"offset": 0.214, "color": "#222"}, {"offset": 0.214, "color": "white"}, {"offset": 0.386, "color": "white"}, {"offset": 0.386, "color": "#222"}, {"offset": 0.414, "color": "#222"}, {"offset": 0.414, "color": "white"}, {"offset": 0.586, "color": "white"}, {"offset": 0.586, "color": "#222"}, {"offset": 0.614, "color": "#222"}, {"offset": 0.614, "color": "white"}, {"offset": 0.786, "color": "white"}, {"offset": 0.786, "color": "#222"}, {"offset": 0.814, "color": "#222"}, {"offset": 0.814, "color": "white"}, {"offset": 0.986, "color": "white"}, {"offset": 0.986, "color": "#222"}, {"offset": 1, "color": "#222"}]}},
                 {"test": "datum.trt === 'MTA'", "value": {"gradient": "linear", "x1": 0, "y1": 0, "x2": 1, "y2": 1, "stops": [{"offset": 0, "color": "#222"}, {"offset": 0.022, "color": "#222"}, {"offset": 0.022, "color": "white"}, {"offset": 0.311, "color": "white"}, {"offset": 0.311, "color": "#222"}, {"offset": 0.355, "color": "#222"}, {"offset": 0.355, "color": "white"}, {"offset": 0.645, "color": "white"}, {"offset": 0.645, "color": "#222"}, {"offset": 0.689, "color": "#222"}, {"offset": 0.689, "color": "white"}, {"offset": 0.978, "color": "white"}, {"offset": 0.978, "color": "#222"}, {"offset": 1, "color": "#222"}]}}
               ], "value": "white"}}},
            {"mark": {"type": "tick", "size": 24, "thickness": 1.2, "color": "#111"},
             "encoding": {
               "x": {"field": "geno", "type": "nominal", "scale": {"type": "band", "domain": ["WT", "mtn1", "m8", "m10", "m11"], "paddingInner": 0, "paddingOuter": 0.258}, "axis": null},
               "xOffset": {"field": "trt", "type": "nominal", "scale": {"type": "band", "domain": ["MgSO₄", "MTA"], "paddingInner": 0.2, "paddingOuter": 0.58}},
               "y": {"field": "med", "type": "quantitative", "scale": {"domain": [-6.5, 120.2], "nice": false, "zero": false}, "axis": null}}},
            {"mark": {"type": "text", "dy": -15, "fontSize": 15, "baseline": "middle", "color": "#000"},
             "encoding": {
               "x": {"field": "geno", "type": "nominal", "scale": {"type": "band", "domain": ["WT", "mtn1", "m8", "m10", "m11"], "paddingInner": 0, "paddingOuter": 0.258}, "axis": null},
               "xOffset": {"field": "trt", "type": "nominal", "scale": {"type": "band", "domain": ["MgSO₄", "MTA"], "paddingInner": 0.2, "paddingOuter": 0.58}},
               "y": {"field": "top", "type": "quantitative", "scale": {"domain": [-6.5, 120.2], "nice": false, "zero": false}, "axis": null},
               "text": {"field": "lab"}}}
          ]
        }
      ]
    }
  ]
}
